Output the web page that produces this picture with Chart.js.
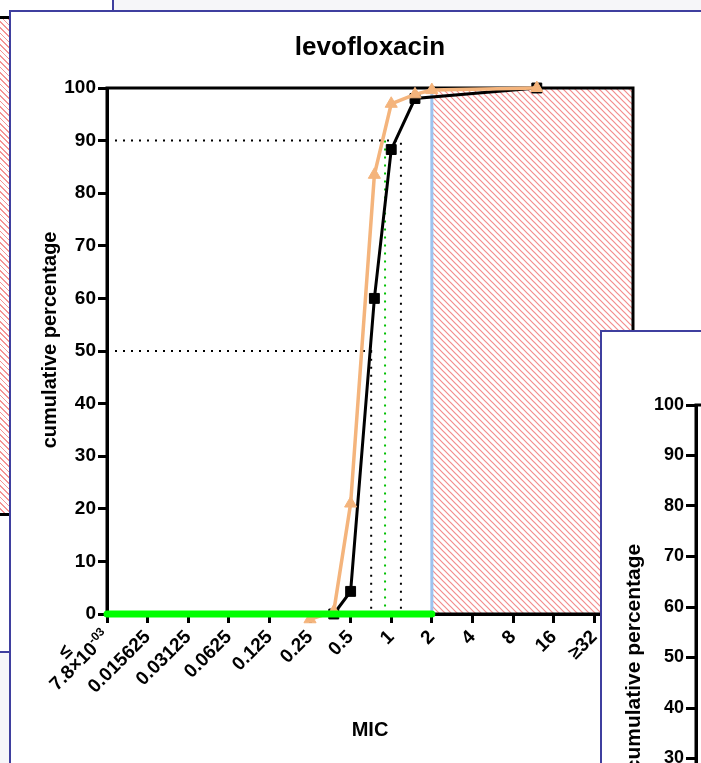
<!DOCTYPE html>
<html>
<head>
<meta charset="utf-8">
<title>levofloxacin</title>
<script src="https://cdn.jsdelivr.net/npm/chart.js@4.4.1/dist/chart.umd.min.js"></script>
<style>
    html, body { margin: 0; padding: 0; }
    body {
        width: 701px; height: 763px; position: relative; overflow: hidden;
        background: #f6f6f9;
        font-family: "Liberation Sans", Arial, sans-serif;
    }
    .panel { position: absolute; background: #fff; box-sizing: border-box; }
    #leftPanel {
        left: -10px; top: -10px; width: 124px; height: 663px;
        border-right: 2px solid #3f3f9f; border-bottom: 2px solid #3f3f9f;
    }
    #leftHatch {
        position: absolute; left: 0; top: 16px; width: 9px; height: 500px;
        box-sizing: border-box;
        border-top: 3px solid #000; border-bottom: 3px solid #000;
        background: repeating-linear-gradient(45deg, #fff 0 2.8px, #f49494 2.8px 4px);
    }
    #mainPanel {
        left: 9px; top: 10px; width: 800px; height: 800px;
        border-left: 2px solid #3f3f9f; border-top: 2px solid #3f3f9f;
    }
    #mainCanvas { position: absolute; left: 0; top: 0; }
    #rightPanel {
        left: 600px; top: 330px; width: 200px; height: 500px; overflow: hidden;
        border-left: 2px solid #3f3f9f; border-top: 2px solid #3f3f9f;
    }
    #rightCanvas { position: absolute; left: 0; top: 0; }
</style>
</head>
<body>
<div class="panel" id="leftPanel"></div>
<div id="leftHatch"></div>
<div class="panel" id="mainPanel"></div>
<canvas id="mainCanvas" width="701" height="763"></canvas>
<div class="panel" id="rightPanel"><canvas id="rightCanvas" width="300" height="700"></canvas></div>

<script>
// MIC categories on the x axis (log2 spaced)
const xTickValues = [0.0078125, 0.015625, 0.03125, 0.0625, 0.125, 0.25, 0.5, 1, 2, 4, 8, 16, 32];
const xLabels = ['7.8×10', '0.015625', '0.03125', '0.0625', '0.125', '0.25', '0.5', '1', '2', '4', '8', '16', '≥32'];
const firstLabelPrefix = '≤';
const firstLabelExp = '-03';
const xMax = 62;

// cumulative percentage, black squares
const blackMic = [0.375, 0.5, 0.75, 1, 1.5, 12];
const blackPct = [0, 4.3, 60, 88.3, 98, 100];

// cumulative percentage, orange triangles
const orangeMic = [0.25, 0.375, 0.5, 0.75, 1, 1.5, 2, 12];
const orangePct = [-1, 0.5, 21, 83.5, 97, 98.8, 99.6, 100];

// reference lines
const mic50 = 0.71;
const mic90 = 1.18;
const micGreen = 0.9;
const breakpoint = 2;

const FONT = '"Liberation Sans", Arial, sans-serif';
const TICK_SIZE = 19;
const TICK_LEN = 9;
const TICK_PAD = 3;
const ORANGE = '#f4b47c';
Chart.defaults.font.family = FONT;
Chart.defaults.color = '#000';

function toPoints(xs, ys) {
    return xs.map((x, i) => ({ x: x, y: ys[i] }));
}

function makeHatch(ctx) {
    const c = document.createElement('canvas');
    c.width = 6; c.height = 6;
    const g = c.getContext('2d');
    g.strokeStyle = '#f38c8c';
    g.lineWidth = 1.2;
    g.beginPath();
    g.moveTo(0, 0); g.lineTo(6, 6);
    g.moveTo(-1, 5); g.lineTo(1, 7);
    g.moveTo(5, -1); g.lineTo(7, 1);
    g.stroke();
    return ctx.createPattern(c, 'repeat');
}

const mainPlugin = {
    id: 'mainDecor',
    beforeDatasetsDraw(chart) {
        const { ctx, chartArea: a, scales: { x, y } } = chart;
        const left = x.getPixelForValue(breakpoint);
        ctx.save();
        ctx.fillStyle = makeHatch(ctx);
        ctx.fillRect(left, y.getPixelForValue(100), a.right - left, y.getPixelForValue(0) - y.getPixelForValue(100));
        ctx.strokeStyle = '#000';
        ctx.lineWidth = 3;
        ctx.strokeRect(a.left, a.top, a.right - a.left, a.bottom - a.top);
        ctx.restore();
    },
    afterDraw(chart) {
        // superscript and the "≤" of the first tick label, placed like a rotated tick label
        const { ctx, scales: { x } } = chart;
        const lh = TICK_SIZE * 1.2;
        const rot = -Math.PI / 4;
        ctx.save();
        ctx.translate(x.getPixelForValue(xTickValues[0]) + (lh / 2) * Math.sin(rot), x.top + TICK_LEN + TICK_PAD);
        ctx.rotate(rot);
        ctx.fillStyle = '#000';
        ctx.textBaseline = 'middle';
        ctx.textAlign = 'right';
        ctx.font = 'bold 12px ' + FONT;
        const expW = ctx.measureText(firstLabelExp).width;
        ctx.fillText(firstLabelExp, 0, lh / 2 - 6);
        ctx.font = 'bold ' + TICK_SIZE + 'px ' + FONT;
        const mainW = ctx.measureText(xLabels[0]).width;
        ctx.fillText(xLabels[0], -expW, lh / 2);
        ctx.textAlign = 'center';
        ctx.fillText(firstLabelPrefix, -(expW + mainW) / 2 - 4, lh / 2 - 16);
        ctx.restore();
    }
};

const dotted = {
    borderWidth: 2,
    borderDash: [2, 6],
    pointRadius: 0,
    fill: false,
    clip: false
};

new Chart(document.getElementById('mainCanvas'), {
    type: 'line',
    data: {
        datasets: [
            {
                label: 'S range',
                data: [{ x: xTickValues[0], y: 0 }, { x: breakpoint, y: 0 }],
                borderColor: '#00ff00',
                borderWidth: 7,
                borderCapStyle: 'round',
                pointRadius: 0,
                clip: false
            },
            {
                label: 'orange',
                data: toPoints(orangeMic, orangePct),
                borderColor: ORANGE,
                backgroundColor: ORANGE,
                borderWidth: 3.5,
                pointStyle: 'triangle',
                pointRadius: 7,
                pointBorderWidth: 1,
                clip: false
            },
            {
                label: 'black',
                data: toPoints(blackMic, blackPct),
                borderColor: '#000',
                backgroundColor: '#000',
                borderWidth: 3,
                pointStyle: 'rect',
                pointRadius: 7,
                pointBorderWidth: 1,
                clip: false
            },
            {
                label: 'breakpoint',
                data: [{ x: breakpoint, y: 0 }, { x: breakpoint, y: 100 }],
                borderColor: '#9dc3ef',
                borderWidth: 3,
                pointRadius: 0,
                clip: false
            },
            Object.assign({
                label: 'MIC50',
                data: [{ x: xTickValues[0], y: 50 }, { x: mic50, y: 50 }, { x: mic50, y: 0 }],
                borderColor: '#000'
            }, dotted),
            Object.assign({
                label: 'MIC90',
                data: [{ x: xTickValues[0], y: 90 }, { x: mic90, y: 90 }, { x: mic90, y: 0 }],
                borderColor: '#000'
            }, dotted),
            Object.assign({
                label: 'green',
                data: [{ x: micGreen, y: 90 }, { x: micGreen, y: 0 }],
                borderColor: '#00c000'
            }, dotted)
        ]
    },
    options: {
        responsive: false,
        animation: false,
        devicePixelRatio: 1,
        layout: { padding: { left: 0, right: 68, top: 0, bottom: 0 } },
        plugins: {
            legend: { display: false },
            tooltip: { enabled: false },
            title: {
                display: true,
                text: 'levofloxacin',
                fullSize: false,
                color: '#000',
                font: { size: 26, weight: 'bold' },
                padding: { top: 32, bottom: 24.8 }
            }
        },
        scales: {
            x: {
                type: 'logarithmic',
                min: xTickValues[0],
                max: xMax,
                afterBuildTicks: s => { s.ticks = xTickValues.map(v => ({ value: v })); },
                afterFit: s => { s.height = 149; },
                ticks: {
                    autoSkip: false,
                    maxRotation: 45,
                    minRotation: 45,
                    padding: TICK_PAD,
                    color: '#000',
                    font: { size: TICK_SIZE, weight: 'bold' },
                    callback: (v, i) => (i === 0 ? '' : xLabels[i])
                },
                grid: { drawOnChartArea: false, tickLength: TICK_LEN, tickWidth: 3, tickColor: '#000', color: '#000' },
                border: { width: 3, color: '#000' },
                title: {
                    display: true,
                    text: 'MIC',
                    color: '#000',
                    font: { size: 20, weight: 'bold' },
                    padding: { top: 0, bottom: 21 }
                }
            },
            y: {
                min: 0,
                max: 100,
                afterFit: s => { s.width = 107; },
                ticks: { stepSize: 10, padding: 2, color: '#000', font: { size: TICK_SIZE, weight: 'bold' } },
                grid: { drawOnChartArea: false, tickLength: TICK_LEN, tickWidth: 3, tickColor: '#000', color: '#000' },
                border: { width: 3, color: '#000' },
                title: {
                    display: true,
                    text: '    cumulative percentage',
                    color: '#000',
                    font: { size: 20, weight: 'bold' },
                    padding: { top: 38, bottom: 0 }
                }
            }
        }
    },
    plugins: [mainPlugin]
});

// neighbouring panel, only its y axis shows in the corner
const framePlugin = {
    id: 'frame',
    beforeDatasetsDraw(chart) {
        const { ctx, chartArea: a } = chart;
        ctx.save();
        ctx.strokeStyle = '#000';
        ctx.lineWidth = 3;
        ctx.strokeRect(a.left, a.top, a.right - a.left, a.bottom - a.top);
        ctx.restore();
    }
};

new Chart(document.getElementById('rightCanvas'), {
    type: 'line',
    data: {
        datasets: [
            Object.assign({ data: [{ x: 0, y: 90 }, { x: 10, y: 90 }], borderColor: '#000' }, dotted),
            Object.assign({ data: [{ x: 0, y: 50 }, { x: 10, y: 50 }], borderColor: '#000' }, dotted)
        ]
    },
    options: {
        responsive: false,
        animation: false,
        devicePixelRatio: 1,
        layout: { padding: { left: 0, right: 0, top: 73, bottom: 122 } },
        plugins: { legend: { display: false }, tooltip: { enabled: false } },
        scales: {
            x: { type: 'linear', display: false, min: 0, max: 10 },
            y: {
                min: 0,
                max: 100,
                afterFit: s => { s.width = 94; },
                ticks: { stepSize: 10, padding: 2, color: '#000', font: { size: 18, weight: 'bold' } },
                grid: { drawOnChartArea: false, tickLength: 10, tickWidth: 3, tickColor: '#000', color: '#000' },
                border: { width: 3, color: '#000' },
                title: {
                    display: true,
                    text: 'cumulative percentage',
                    color: '#000',
                    font: { size: 21, weight: 'bold' },
                    padding: { top: 20, bottom: 0 }
                }
            }
        }
    },
    plugins: [framePlugin]
});
</script>
</body>
</html>
